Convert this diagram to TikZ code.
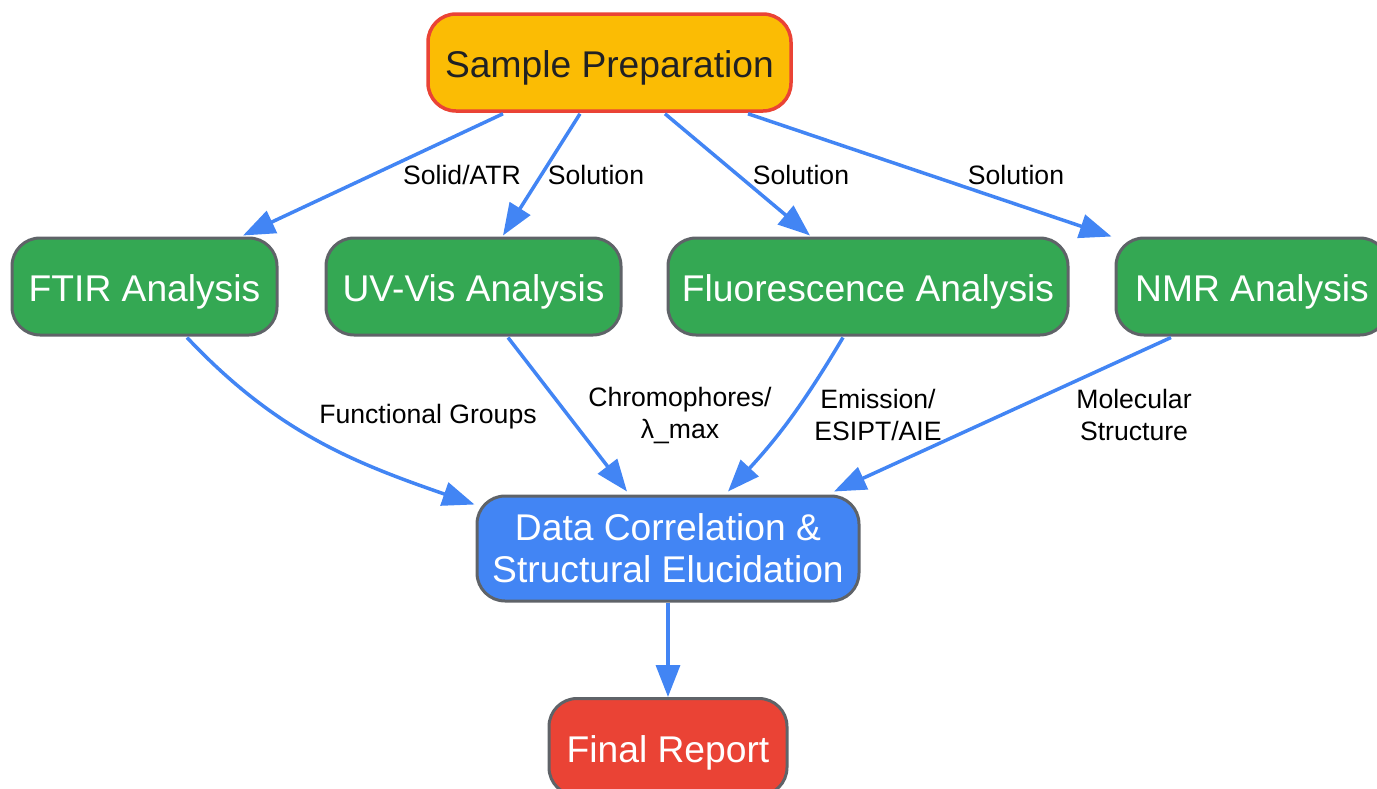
\documentclass[tikz,border=0pt]{standalone}
\usepackage{fontspec}
\setmainfont{Liberation Sans}
\usetikzlibrary{arrows.meta,calc}
\definecolor{gyellow}{HTML}{FBBC04}
\definecolor{ggreen}{HTML}{34A853}
\definecolor{gblue}{HTML}{4285F4}
\definecolor{gred}{HTML}{EA4335}
\definecolor{ggray}{HTML}{5F6368}
\definecolor{gdark}{HTML}{202124}
\tikzset{
  box/.style={rectangle, rounded corners=28pt, draw=ggray, line width=3pt,
    inner sep=0pt, align=center, text=white,
    font=\fontsize{37.2}{42}\selectfont, minimum height=97pt},
  onebox/.style={box, text height=30pt, text depth=0pt},
  lbl/.style={inner sep=0pt, align=center, text=black,
    font=\fontsize{26.6}{32}\selectfont},
  conn/.style={draw=gblue, line width=3.5pt,
    -{Triangle[length=32pt,width=24pt]}}
}
\begin{document}
\begin{tikzpicture}[x=1pt,y=-1pt]
\useasboundingbox (0,0) rectangle (1377,788);
\clip (0,0) rectangle (1377,788);
\node[onebox, fill=gyellow, draw=gred, line width=3.5pt, text=gdark, minimum width=363pt] (sp) at (609.5,62.5) {Sample Preparation};
\node[onebox, fill=ggreen, minimum width=265pt] (ftir) at (144.5,286.5) {FTIR Analysis};
\node[onebox, fill=ggreen, minimum width=295pt] (uv) at (473.5,286.5) {UV-Vis Analysis};
\node[onebox, fill=ggreen, minimum width=400pt] (fl) at (868,286.5) {Fluorescence Analysis};
\node[onebox, fill=ggreen, minimum width=272pt] (nmr) at (1252,286.5) {NMR Analysis};
\node[box, fill=gblue, minimum width=382pt, minimum height=105pt] (dc) at (668,548.5) {Data Correlation \&\\Structural Elucidation};
\node[onebox, fill=gred, minimum width=238pt] (fr) at (668,747) {Final Report};

% top edges
\draw[conn] ($(sp.south)+(-106.5,1)$) -- ($(ftir.north)+(98.5,-1)$);
\draw[conn] ($(sp.south)+(-29.5,1)$) -- ($(uv.north)+(29.5,-1)$);
\draw[conn] ($(sp.south)+(55.5,1)$) -- ($(fl.north)+(-58,-1)$);
\draw[conn] ($(sp.south)+(138.5,1)$) -- ($(nmr.north west)+(-3,0)$);
\node[lbl] (l1) at (462,175) {Solid/ATR};
\node[lbl] (l2) at (596,175) {Solution};
\node[lbl] (l3) at (801,175) {Solution};
\node[lbl] (l4) at (1016,175) {Solution};

% bottom edges
\draw[conn] ($(ftir.south)+(42.5,1)$) .. controls (277,433) and (355,463) .. ($(dc.north west)+(-1,10)$);
\draw[conn] ($(uv.south)+(34.5,1)$) -- ($(dc.north)+(-41,-3)$);
\draw[conn] ($(fl.south)+(-25,1)$) to[bend left=6] ($(dc.north)+(60,-3)$);
\draw[conn] ($(nmr.south)+(-81,1)$) -- ($(dc.north)+(166,-3)$);
\node[lbl] (l5) at (428,417) {Functional Groups};
\node[lbl] (l6) at (680,415) {Chromophores/\\λ\_max};
\node[lbl] (l7) at (878,415) {Emission/\\ESIPT/AIE};
\node[lbl] (l8) at (1134,415) {Molecular\\Structure};

\draw[conn] (dc.south) -- (fr.north);
\end{tikzpicture}
\end{document}
